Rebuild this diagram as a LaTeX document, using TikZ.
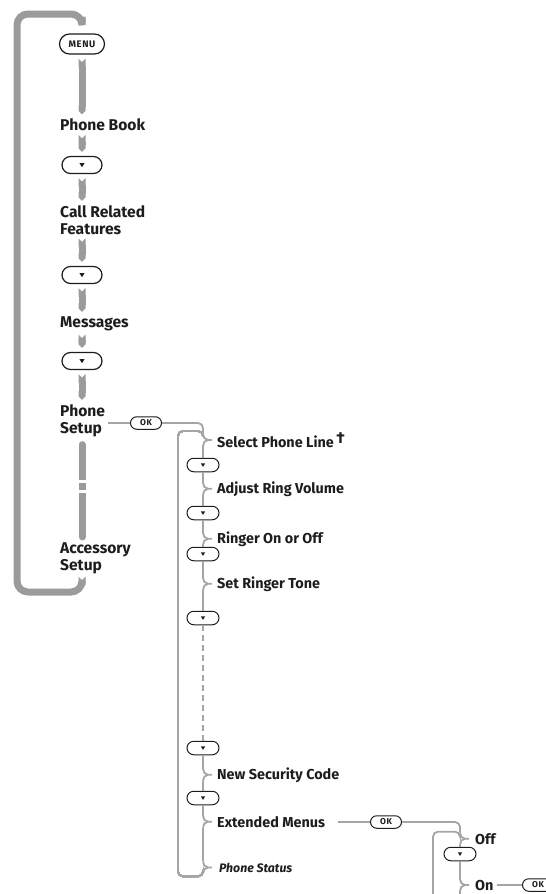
\documentclass[tikz,border=0pt]{standalone}
\usepackage{fontspec}
\setmainfont{Fira Sans}
\usetikzlibrary{arrows.meta, positioning, calc}
\definecolor{barGrey}{HTML}{9B9B9D}
\definecolor{lineGrey}{HTML}{A5A5A7}
\definecolor{inkDark}{HTML}{1E1C1D}
\newcommand{\menutick}[2]{%
  \draw[link] ($(#1.west -| #2)+(0,-6)$) to[out=-90,in=180]
    ($(#1.west -| #2)+(5,0)$) -- ($(#1.west -| #2)+(9,0)$);
  \draw[link] ($(#1.west -| #2)+(0,6)$) to[out=90,in=180]
    ($(#1.west -| #2)+(5,0)$);}

\begin{document}
\begin{tikzpicture}[x=1pt, y=-1pt,
  mainlab/.style={anchor=base west, inner sep=0pt, align=left, text=inkDark,
    font=\fontsize{15.6}{17}\selectfont\bfseries},
  sublab/.style={anchor=base west, inner sep=0pt, text=inkDark,
    font=\fontsize{14.4}{15}\selectfont\bfseries},
  keybtn/.style={draw=inkDark, fill=white, line width=1.2pt, inner sep=0pt,
    text=inkDark},
  menukey/.style={keybtn, minimum width=45pt, minimum height=20pt,
    rounded corners=10pt,
    font=\fontsize{9.5}{9.5}\selectfont\bfseries\addfontfeature{LetterSpace=6}},
  okkey/.style={keybtn, line width=1pt, minimum width=31pt, minimum height=12.5pt,
    rounded corners=6.25pt,
    font=\fontsize{8.5}{8.5}\selectfont\bfseries\addfontfeature{LetterSpace=6}},
  bigdown/.style={keybtn, minimum width=40pt, minimum height=17pt,
    rounded corners=8.5pt,
    path picture={\fill[inkDark, sharp corners]
      ([shift={(-2.6pt,2pt)}]path picture bounding box.center)
      -- ++(5.2pt,0pt) -- ++(-2.6pt,-4.2pt) -- cycle;}},
  smalldown/.style={keybtn, line width=1pt, minimum width=32pt, minimum height=13.5pt,
    rounded corners=6.75pt,
    path picture={\fill[inkDark, sharp corners]
      ([shift={(-2.2pt,1.7pt)}]path picture bounding box.center)
      -- ++(4.4pt,0pt) -- ++(-2.2pt,-3.6pt) -- cycle;}},
  spinebar/.style={barGrey, line width=7pt, {Triangle Cap[reversed]}-{Triangle Cap},
    shorten <=4pt, shorten >=4pt},
  roundbar/.style={barGrey, line width=7pt, line cap=round},
  framebar/.style={barGrey, line width=7pt, rounded corners=11pt,
    {Round Cap}-{Triangle Cap[reversed]}},
  link/.style={lineGrey, line width=1.8pt}]
  \useasboundingbox (0,0) rectangle (546,894);
  \coordinate (col) at (203,0);
  \coordinate (ret) at (178,0);
  \coordinate (xcol) at (460,0);
  \coordinate (xret) at (433,0);

  % main menu
  \node[menukey] (menu) at (82,44) {MENU};
  \node[mainlab] (book) at (60,130.5) {Phone Book};
  \node[bigdown] (dn1) at (82,165) {};
  \node[mainlab] (call) at (60,234) {Call Related\\Features};
  \node[bigdown] (dn2) at (82,275) {};
  \node[mainlab] (msg) at (60,327) {Messages};
  \node[bigdown] (dn3) at (82,361) {};
  \node[mainlab] (setup) at (60,433) {Phone\\Setup};
  \node[mainlab] (acc) at (60,570) {Accessory\\Setup};

  \foreach \a/\b in {menu/book, book/dn1, dn1/call, call/dn2, dn2/msg,
                     msg/dn3, dn3/setup}
    \draw[spinebar] (\a.south -| menu) -- (\b.north -| menu);
  \draw[roundbar, shorten <=8pt, shorten >=5pt]
    (setup.south -| menu) -- (acc.north -| menu);
  \foreach \g in {481.7, 491.3}
    \fill[white] (77,\g-1.7) rectangle (87,\g+1.7);
  \draw[framebar] ([yshift=8pt]menu.north) -- (82,14) -- (17,14) -- (17,592)
    -- (82,592) -- ([yshift=-3pt]acc.south -| menu);

  % phone setup submenu
  \node[okkey] (ok1) at (146,423) {OK};
  \draw[link, shorten <=3pt] (setup.east |- ok1) -- (ok1.west);
  \foreach \n/\y/\t in {sel/447/{Select Phone Line\,\raisebox{3.5pt}{\fontsize{16}{16}\selectfont †}},
                        adj/493/{Adjust Ring Volume}, rng/543/{Ringer On or Off},
                        tone/588/{Set Ringer Tone}, sec/779/{New Security Code},
                        ext/827/{Extended Menus}}
    \node[sublab] (\n) at (217,\y) {\t};
  \node[sublab, font=\fontsize{12.3}{13}\selectfont\bfseries\itshape] (stat)
    at (219,872) {Phone Status};
  \foreach \n/\y in {sb1/465, sb2/513, sb3/554, sb4/618, sb5/748, sb6/798}
    \node[smalldown] (\n) at (203,\y) {};

  \draw[link, rounded corners=5pt] (ok1.east) -| ($(sel.west -| col)+(0,-6)$);
  \foreach \a/\b in {sel/sb1, adj/sb2, rng/sb3, tone/sb4, sec/sb6}
    \draw[link] ($(\a.west -| col)+(0,6)$) -- (\b.north);
  \foreach \a/\b in {sb1/adj, sb2/rng, sb3/tone, sb5/sec, sb6/ext}
    \draw[link] (\a.south) -- ($(\b.west -| col)+(0,-6)$);
  \draw[link] ($(ext.west -| col)+(0,6)$) -- ($(stat.west -| col)+(0,-6)$);
  \draw[link, dash pattern=on 6pt off 4pt] (sb4.south) -- (sb5.north);
  \foreach \n in {sel, adj, rng, tone, sec, ext, stat}
    \menutick{\n}{col}
  \draw[link, rounded corners=5pt] ($(stat.west -| col)+(0,6)$)
    |- ($(stat.west -| ret)+(0,9)$) -- ($(sel.west -| ret)+(0,-9)$)
    -| ($(sel.west -| col)+(0,-4)$);

  % extended menus
  \node[okkey] (ok2) at (386,822) {OK};
  \draw[link, shorten <=13pt] (ext.east |- ok2) -- (ok2.west);
  \node[sublab] (off) at (475,844) {Off};
  \node[smalldown] (sb7) at (460,854) {};
  \node[sublab] (on) at (475,890) {On};
  \node[okkey] (ok3) at (538,885) {OK};
  \coordinate (xend) at ($(on.west -| xcol)+(0,20)$);
  \coordinate (xretend) at ($(on.west -| xret)+(0,20)$);
  \draw[link, rounded corners=5pt] (ok2.east) -| ($(off.west -| xcol)+(0,-6)$);
  \draw[link] ($(off.west -| xcol)+(0,6)$) -- (sb7.north);
  \draw[link] (sb7.south) -- ($(on.west -| xcol)+(0,-6)$);
  \draw[link] ($(on.west -| xcol)+(0,6)$) -- (xend);
  \menutick{off}{xcol}
  \menutick{on}{xcol}
  \draw[link, rounded corners=5pt] (xretend) |- ($(off.west -| xcol)+(0,-7)$)
    -- ($(off.west -| xcol)+(0,-5)$);
  \draw[link, shorten <=3pt] (on.east |- ok3) -- (ok3.west);
\end{tikzpicture}
\end{document}
